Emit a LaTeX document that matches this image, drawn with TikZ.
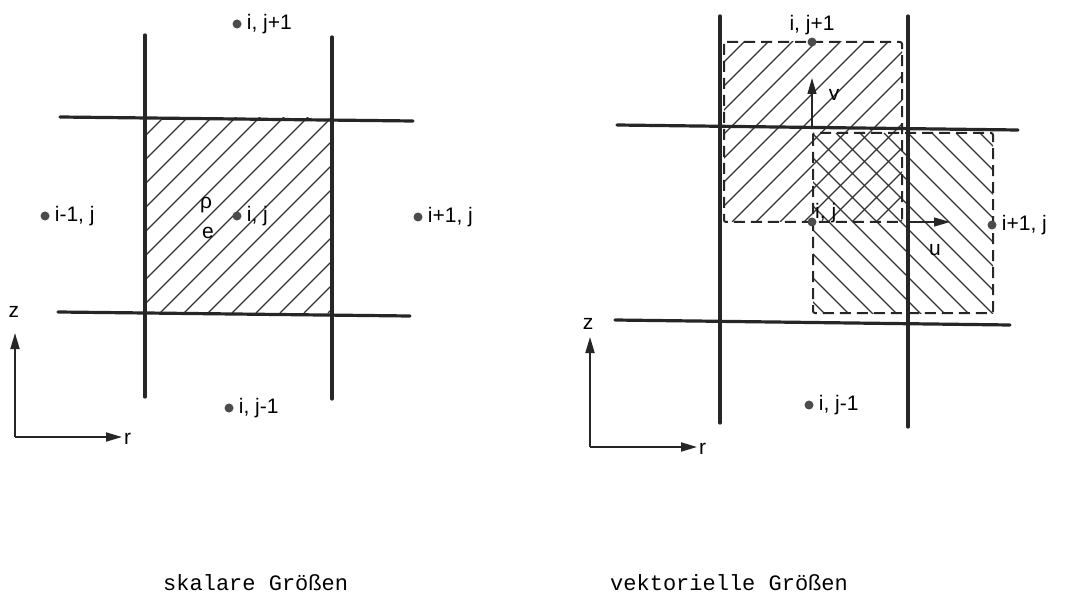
\documentclass[tikz,border=0pt]{standalone}
\usepackage{fontspec}
\setmainfont{Liberation Sans}
\setmonofont{Liberation Mono}
\usepackage{tikz}
\usetikzlibrary{arrows.meta,positioning}

\begin{document}
\begin{tikzpicture}[x=1pt,y=-1pt,
    gridline/.style={line width=3.2pt, black!85, line cap=round},
    hatch/.style={line width=1.1pt, black!80},
    cellbox/.style={line width=2pt, black!85, dash pattern=on 11pt off 6pt, rounded corners=2pt},
    dot/.style={circle, fill=black!70, inner sep=0pt, minimum size=9pt},
    lbl/.style={inner sep=1pt, font=\fontsize{21}{24}\selectfont},
    axis/.style={line width=1.8pt, black!85, -{Triangle[length=16pt,width=9pt]}},
    caption/.style={inner sep=0pt, font=\ttfamily\fontsize{22}{26}\selectfont}]
    \useasboundingbox (0,0) rectangle (1075,612);

    % ---------- skalare Groessen ----------
    % hatched cell
    \begin{scope}
        \clip (145,118) rectangle (332,313);
        \foreach \k in {-200,-176,...,340}
            \draw[hatch] (\k,313) -- ++(220,-220);
    \end{scope}

    % grid lines
    \draw[gridline] (145,35) -- (145,397);
    \draw[gridline] (332,37) -- (332,399);
    \draw[gridline] (60,117) -- (413,121);
    \draw[gridline] (58,312) -- (410,316);

    % cell centres
    \node[dot] (sjp) at (237,24) {};
    \node[dot] (sim) at (45,216) {};
    \node[dot] (sij) at (237,216) {};
    \node[dot] (sip) at (418,217) {};
    \node[dot] (sjm) at (229,408) {};
    \node[lbl, right=4pt of sjp] {i, j+1};
    \node[lbl, right=4pt of sim] {i-1, j};
    \node[lbl, right=4pt of sij] {i, j};
    \node[lbl, right=4pt of sip] {i+1, j};
    \node[lbl, right=4pt of sjm] {i, j-1};
    \node[lbl] (rho) at (206,205) {ρ};
    \node[lbl] (ene) at (208,233) {e};

    % axes
    \coordinate (so) at (15,437);
    \coordinate (sz) at (15,333);
    \coordinate (sr) at (122,437);
    \draw[axis] (so) -- (sz);
    \draw[axis] (so) -- (sr);
    \node[lbl] at (14,312) {z};
    \node[lbl, anchor=west] at (123,439) {r};

    % ---------- vektorielle Groessen ----------
    % v cell
    \begin{scope}
        \clip (724,42) rectangle (902,222);
        \foreach \k in {540,564,...,920}
            \draw[hatch] (\k,222) -- ++(200,-200);
    \end{scope}
    % u cell
    \begin{scope}
        \clip (813,133) rectangle (993,313);
        \foreach \k in {620,644,...,1000}
            \draw[hatch] (\k,133) -- ++(200,200);
    \end{scope}
    \draw[cellbox] (724,42) rectangle (902,222);
    \draw[cellbox] (813,133) rectangle (993,313);

    % grid lines
    \draw[gridline] (720,16) -- (720,423);
    \draw[gridline] (908,16) -- (908,427);
    \draw[gridline] (617,125) -- (1018,130);
    \draw[gridline] (615,320) -- (1010,325);

    % cell centres
    \node[dot] (vjp) at (812,42) {};
    \node[dot] (vij) at (812,222) {};
    \node[dot] (vip) at (992,225) {};
    \node[dot] (vjm) at (809,405) {};
    \node[lbl, above=1pt of vjp] {i, j+1};
    \node[lbl, anchor=south west] at (814,224) {i, j};
    \node[lbl, right=4pt of vip] {i+1, j};
    \node[lbl, right=4pt of vjm] {i, j-1};

    % velocity components
    \coordinate (vtail) at (812,127);
    \coordinate (vtip) at (812,78);
    \coordinate (utail) at (906,222);
    \coordinate (utip) at (950,222);
    \draw[axis, line width=1.2pt] (vtail) -- (vtip);
    \draw[axis, line width=1.2pt] (utail) -- (utip);
    \node[lbl] at (834,95) {v};
    \node[lbl] at (935,250) {u};

    % axes
    \coordinate (vo) at (590,447);
    \coordinate (vz) at (590,337);
    \coordinate (vr) at (697,447);
    \draw[axis] (vo) -- (vz);
    \draw[axis] (vo) -- (vr);
    \node[lbl] at (588,324) {z};
    \node[lbl, anchor=west] at (698,449) {r};

    % captions
    \node[caption, anchor=base west] at (163,590) {skalare Größen};
    \node[caption, anchor=base west] at (610,590) {vektorielle Größen};
\end{tikzpicture}
\end{document}
